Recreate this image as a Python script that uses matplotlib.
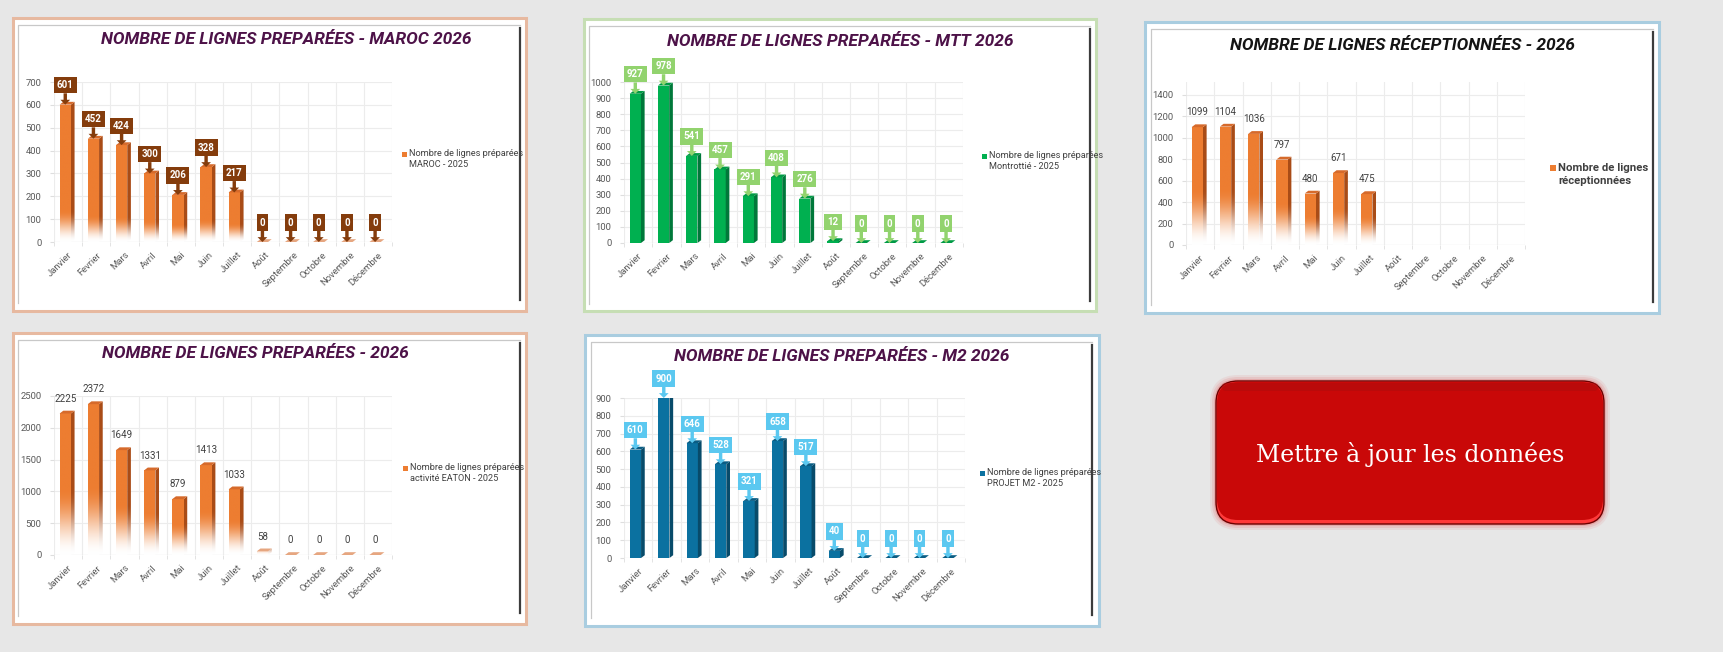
import numpy as np
import matplotlib
matplotlib.use("Agg")
import matplotlib.pyplot as plt
from matplotlib.patches import Rectangle, Polygon, FancyBboxPatch
from matplotlib.lines import Line2D
from matplotlib.colors import to_rgb
from matplotlib import font_manager

months = ["Janvier", "Fevrier", "Mars", "Avril", "Mai", "Juin", "Juillet",
          "Août", "Septembre", "Octobre", "Novembre", "Décembre"]
maroc = [601, 452, 424, 300, 206, 328, 217, 0, 0, 0, 0, 0]
mtt = [927, 978, 541, 457, 291, 408, 276, 12, 0, 0, 0, 0]
recep = [1099, 1104, 1036, 797, 480, 671, 475, None, None, None, None, None]
total = [2225, 2372, 1649, 1331, 879, 1413, 1033, 58, 0, 0, 0, 0]
m2 = [610, 900, 646, 528, 321, 658, 517, 40, 0, 0, 0, 0]

W, H = 1723, 652
names = {f.name for f in font_manager.fontManager.ttflist}
NARROW = "Liberation Sans Narrow" if "Liberation Sans Narrow" in names else "Roboto"
plt.rcParams["font.family"] = [NARROW, "DejaVu Sans"]

ORANGE = ("#ed7d31", "#a94c17", "#d66a2b")
GREEN = ("#00b050", "#00783a", "#009a45")
BLUE = ("#0b71a0", "#084b6a", "#0a5d84")
PURPLE = "#4d1248"

fig = plt.figure(figsize=(W / 100, H / 100), dpi=100, facecolor="#e7e7e7")


def fx(x):
    return x / W


def fy(y):
    return 1 - y / H


def frame(outer, inner, edge):
    x0, y0, x1, y1 = outer
    fig.add_artist(Rectangle((fx(x0), fy(y1)), (x1 - x0) / W, (y1 - y0) / H,
                             transform=fig.transFigure, fc="white", ec=edge,
                             lw=2.2, zorder=-3))
    x0, y0, x1, y1 = inner
    fig.add_artist(Line2D([fx(x0), fx(x0), fx(x1)], [fy(y1), fy(y0), fy(y0)],
                          transform=fig.transFigure, color="#c8c8c8", lw=0.9, zorder=-2))
    fig.add_artist(Line2D([fx(x1), fx(x1)], [fy(y0 + 3), fy(y1 - 3)],
                          transform=fig.transFigure, color="#3c3c3c", lw=1.6, zorder=-2))


def bar3d(ax, x, v, cols, fade, ypx):
    front, side, top = cols
    x0, x1 = x - 0.3, x + 0.1
    dx, dy = 0.13, 2.8 * ypx
    fpts = [(x0, 0), (x1, 0), (x1, v), (x0, v)]
    spts = [(x1, 0), (x1 + dx, dy), (x1 + dx, v + dy), (x1, v)]
    tpts = [(x0, v), (x1, v), (x1 + dx, v + dy), (x0 + dx, v + dy)]
    if fade is None:
        ax.add_patch(Polygon(fpts, fc=front, ec="none", zorder=2))
        ax.add_patch(Polygon(spts, fc=side, ec="none", zorder=2))
        ax.add_patch(Polygon(tpts, fc=top, ec="none", zorder=3))
        return
    fh = fade[0] * v + fade[1]
    if v > 0:
        for pts, c in ((fpts, front), (spts, side)):
            hh = v + dy
            ys = np.linspace(0, hh, 300)
            m = np.clip(ys / fh, 0, 1)
            m = m * m * (3 - 2 * m)
            rgb = np.array(to_rgb(c))
            img = (1 - m)[:, None] + m[:, None] * rgb
            xs = [p[0] for p in pts]
            im = ax.imshow(img[:, None, :], extent=[min(xs), max(xs), 0, hh],
                           origin="lower", aspect="auto", interpolation="bilinear",
                           zorder=2)
            im.set_clip_path(Polygon(pts, transform=ax.transData))
    k = max(0.6, min(1, v / fh))
    tc = (1 - k) * np.ones(3) + k * np.array(to_rgb(top))
    ax.add_patch(Polygon(tpts, fc=tc, ec="none", zorder=3))


def panel(values, title, tcolor, outer, inner, edge, axpx, title_xy, leg_xy, leg_text,
          ylim, ystep, ytop, cols, fade=None, callout=None, leg_bold=False):
    frame(outer, inner, edge)
    x0, y0, x1, y1 = axpx
    ax = fig.add_axes([fx(x0), fy(y1), (x1 - x0) / W, (y1 - y0) / H])
    ax.set_facecolor("none")
    ypx = ylim / (y1 - y0)
    for i, v in enumerate(values):
        if v is None:
            continue
        bar3d(ax, i, v, cols, fade, ypx)
        xc = i - 0.1
        if callout:
            ax.annotate(str(v), xy=(xc, v), xytext=(0, 14), textcoords="offset points",
                        ha="center", va="center", fontsize=7, fontweight="bold",
                        color="white", zorder=5, annotation_clip=False,
                        bbox=dict(boxstyle="square,pad=0.32", fc=callout, ec="none"),
                        arrowprops=dict(arrowstyle="simple,head_length=0.5,head_width=1.0,tail_width=0.35",
                                        fc=callout, ec="none", shrinkA=0, shrinkB=0))
        else:
            ax.annotate(str(v), xy=(xc, v), xytext=(0, 7), textcoords="offset points",
                        ha="center", va="bottom", fontsize=7, color="#404040",
                        annotation_clip=False)
    ax.set_xlim(-0.5, 11.5)
    ax.set_ylim(0, ylim)
    ax.set_yticks(np.arange(0, ytop + 1, ystep))
    ax.set_xticks(range(12))
    ax.set_xticklabels(months, rotation=45, ha="right", rotation_mode="anchor")
    ax.set_xticks(np.arange(-0.5, 12, 1), minor=True)
    ax.tick_params(axis="x", which="major", length=0, labelsize=6.8,
                   labelcolor="#595959", pad=6)
    ax.tick_params(axis="x", which="minor", length=3, color="#dedede")
    ax.tick_params(axis="y", length=3, color="#dedede", labelsize=6.8,
                   labelcolor="#595959", pad=6)
    ax.grid(axis="y", which="major", color="#ececec", lw=0.8, zorder=0)
    ax.grid(axis="x", which="minor", color="#ececec", lw=0.8, zorder=0)
    ax.set_axisbelow(True)
    for s in ax.spines.values():
        s.set_visible(False)
    ax.axhline(0, color="#e2e2e2", lw=0.8, zorder=1)

    fig.text(fx(title_xy[0]), fy(title_xy[1]), title, ha="center", va="center",
             fontsize=12.5, fontweight="bold", fontstyle="italic", color=tcolor)
    lx, ly = leg_xy
    sz = 5 if not leg_bold else 6
    fig.add_artist(Rectangle((fx(lx), fy(ly + sz / 2)), sz / W, sz / H,
                             transform=fig.transFigure, fc=cols[0], ec="none"))
    fig.text(fx(lx + sz + 2), fy(ly - 5), leg_text, ha="left", va="top",
             fontsize=8.2 if leg_bold else 6.6, color="#404040",
             fontweight="bold" if leg_bold else "normal", linespacing=1.35)
    return ax


panel(maroc, "NOMBRE DE LIGNES PREPARÉES - MAROC 2026", PURPLE,
      (12.5, 18, 526, 311), (18, 25, 520, 303), "#e7b9a0",
      (54, 82, 392, 242), (286, 40), (402, 154),
      "Nombre de lignes préparées\nMAROC - 2025",
      700, 100, 700, ORANGE, fade=(0.15, 49), callout="#843c0c")

panel(mtt, "NOMBRE DE LIGNES PREPARÉES - MTT 2026", PURPLE,
      (583.6, 19, 1096, 311), (589, 26, 1090, 304), "#c6deb4",
      (624, 82, 963, 243), (840, 41), (982, 156),
      "Nombre de lignes préparées\nMontrottié - 2025",
      1000, 100, 1000, GREEN, callout="#92d36e")

panel(recep, "NOMBRE DE LIGNES RÉCEPTIONNÉES - 2026", "#141414",
      (1145, 22, 1659, 313), (1151, 29, 1653, 305), "#a9cde0",
      (1186, 82, 1525, 245), (1402, 45), (1550, 168),
      "Nombre de lignes\nréceptionnées",
      1520, 200, 1400, ORANGE, fade=(0.4, 84), leg_bold=True)

panel(total, "NOMBRE DE LIGNES PREPARÉES - 2026", PURPLE,
      (12.5, 333, 526, 624), (18, 340, 520, 616), "#e7b9a0",
      (54, 396, 392, 555), (255, 354), (403, 468),
      "Nombre de lignes préparées\nactivité EATON - 2025",
      2500, 500, 2500, ORANGE, fade=(0.4, 150))

panel(m2, "NOMBRE DE LIGNES PREPARÉES - M2 2026", PURPLE,
      (585, 335, 1098.6, 626), (591, 342, 1092, 618), "#a9cde0",
      (624, 398, 965, 558), (842, 357), (980, 473),
      "Nombre de lignes préparées\nPROJET M2 - 2025",
      900, 100, 900, BLUE, callout="#5bc8f0")

# bouton
bx0, by0, bx1, by1 = 1216, 381, 1604, 524
m = 10
bax = fig.add_axes([fx(bx0 - m), fy(by1 + m), (bx1 - bx0 + 2 * m) / W, (by1 - by0 + 2 * m) / H])
bax.set_xlim(-m, bx1 - bx0 + m)
bax.set_ylim(-m, by1 - by0 + m)
bax.axis("off")
bw, bh = bx1 - bx0, by1 - by0
for g, a in ((6, 0.07), (4, 0.1), (2, 0.16)):
    bax.add_patch(FancyBboxPatch((-g, -g), bw + 2 * g, bh + 2 * g,
                                 boxstyle="round,pad=0,rounding_size=%d" % (22 + g),
                                 fc="#e02020", ec="none", alpha=a))
bax.add_patch(FancyBboxPatch((0, 0), bw, bh, boxstyle="round,pad=0,rounding_size=22",
                             fc="#ff3a3a", ec="#6e0000", lw=1.0))
bax.add_patch(FancyBboxPatch((1, 4), bw - 2, bh - 5, boxstyle="round,pad=0,rounding_size=21",
                             fc="#c90808", ec="none"))
bax.add_patch(FancyBboxPatch((6, bh - 10), bw - 12, 8, boxstyle="round,pad=0,rounding_size=4",
                             fc="#b00c0c", ec="none", alpha=0.6))
bax.text(bw / 2, bh / 2 - 2, "Mettre à jour les données", ha="center", va="center",
         fontsize=17, color="white", family=["DejaVu Serif"])

fig.savefig("out.png", dpi=100, facecolor=fig.get_facecolor())
